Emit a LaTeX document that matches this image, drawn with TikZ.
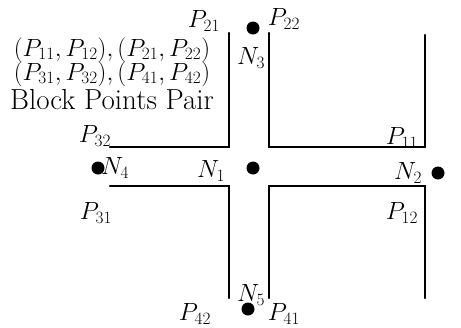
\documentclass[tikz,border=0pt]{standalone}
\begin{document}
\begin{tikzpicture}[x=1pt,y=-1pt,
  wall/.style={line width=2.4pt,line cap=round,line join=miter},
  dot/.style={circle,fill=black,inner sep=0pt,minimum size=13pt},
  lab/.style={inner sep=0pt,font=\fontsize{24.5}{28}\selectfont},
  txt/.style={inner sep=0pt,font=\fontsize{24}{28}\selectfont},
  bigtxt/.style={inner sep=0pt,font=\fontsize{29}{33}\selectfont}]
\useasboundingbox (0,0) rectangle (461,327);
% blocks
\draw[wall] (110,147) -- (229,147) -- (229,33);
\draw[wall] (269,33) -- (269,147) -- (425,147) -- (425,35);
\draw[wall] (110,186) -- (229,186) -- (229,298);
\draw[wall] (269,298) -- (269,186) -- (425,186) -- (425,298);
% dots
\node[dot] (n3) at (253,28) {};
\node[dot] (n1) at (253,168) {};
\node[dot] (n2) at (438,173) {};
\node[dot] (n4) at (98,168) {};
\node[dot] (n5) at (248,309) {};
% text
\node[txt] (t1) at (112,50) {$(P_{11},P_{12}),(P_{21},P_{22})$};
\node[txt] (t2) at (112,74) {$(P_{31},P_{32}),(P_{41},P_{42})$};
\node[bigtxt] (t3) at (112,100) {Block Points Pair};
% labels
\node[lab] (p21) at (204,21) {$P_{21}$};
\node[lab] (p22) at (284,19) {$P_{22}$};
\node[lab] (l3) at (251,58) {$N_3$};
\node[lab] (p32) at (95,136) {$P_{32}$};
\node[lab] (p11) at (402,138) {$P_{11}$};
\node[lab] (l4) at (115,168) {$N_4$};
\node[lab] (l1) at (211,171) {$N_1$};
\node[lab] (l2) at (408,173) {$N_2$};
\node[lab] (p31) at (96,213) {$P_{31}$};
\node[lab] (p12) at (402,213) {$P_{12}$};
\node[lab] (p42) at (195,314) {$P_{42}$};
\node[lab] (l5) at (251,295) {$N_5$};
\node[lab] (p41) at (284,314) {$P_{41}$};
\end{tikzpicture}
\end{document}
